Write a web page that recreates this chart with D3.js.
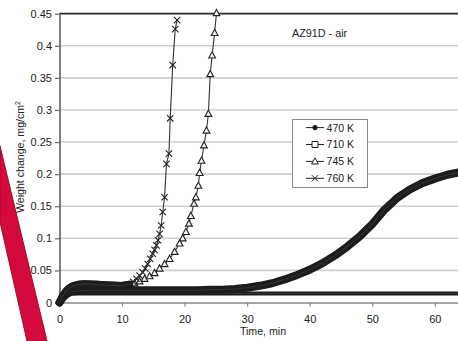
<!DOCTYPE html>
<html>
<head>
<meta charset="utf-8">
<script src="https://cdn.jsdelivr.net/npm/d3@7"></script>
<style>
  body { margin: 0; background: #fff; }
  svg { display: block; font-family: "Liberation Sans", Arial, sans-serif; }
</style>
</head>
<body>
<svg id="chart" width="458" height="341"></svg>
<script>
// values (time in min, weight change in mg/cm2)
const yTicks = [0, 0.05, 0.1, 0.15, 0.2, 0.25, 0.3, 0.35, 0.4, 0.45];
const xTicks = [0, 10, 20, 30, 40, 50, 60];
const seriesNames = ['470 K', '710 K', '745 K', '760 K'];

const t470 = [0, 0.5, 1, 1.5, 2, 3, 5, 10, 20, 30, 40, 50, 60, 66];
const w470 = [0, 0.006, 0.010, 0.013, 0.014, 0.014, 0.014, 0.014, 0.014, 0.014, 0.014, 0.014, 0.014, 0.014];

const t710 = [0, 0.5, 1, 1.5, 2, 3, 5, 8, 10, 12, 15, 18, 20, 22, 24, 26, 28, 30, 32, 34, 36, 38, 40, 42, 44, 46, 48, 50, 52, 54, 56, 58, 60, 62, 64, 66];
const w710 = [0, 0.007, 0.012, 0.015, 0.017, 0.018, 0.019, 0.019, 0.019, 0.019, 0.019, 0.019, 0.019, 0.019, 0.020, 0.020, 0.021, 0.023, 0.026, 0.030, 0.036, 0.043, 0.051, 0.061, 0.073, 0.087, 0.103, 0.122, 0.145, 0.163, 0.176, 0.186, 0.193, 0.199, 0.203, 0.206];

const t745 = [0, 0.5, 1, 1.5, 2, 3, 4, 6, 8, 10, 11.2, 12.0, 12.8, 13.6, 14.4, 15.2, 16.0, 16.8, 17.6, 18.4, 19.2, 19.7, 20.2, 20.7, 21.0, 21.5, 21.8, 22.2, 22.4, 22.7, 23.1, 23.5, 23.8, 24.1, 24.4, 24.8, 25.1];
const w745 = [0, 0.010, 0.017, 0.022, 0.025, 0.028, 0.029, 0.028, 0.027, 0.026, 0.028, 0.030, 0.033, 0.037, 0.041, 0.046, 0.053, 0.060, 0.068, 0.079, 0.092, 0.100, 0.110, 0.123, 0.135, 0.154, 0.164, 0.182, 0.202, 0.221, 0.245, 0.268, 0.294, 0.356, 0.385, 0.420, 0.451];

const t760 = [0, 0.5, 1, 1.5, 2, 3, 4, 6, 8, 10, 11.2, 11.8, 12.3, 12.8, 13.3, 13.7, 14.1, 14.5, 14.9, 15.2, 15.5, 15.75, 16.0, 16.25, 16.5, 16.8, 17.1, 17.5, 17.7, 18.1, 18.5, 18.8];
const w760 = [0, 0.010, 0.017, 0.022, 0.025, 0.028, 0.029, 0.028, 0.027, 0.026, 0.028, 0.032, 0.037, 0.042, 0.047, 0.053, 0.060, 0.068, 0.076, 0.082, 0.089, 0.097, 0.107, 0.120, 0.141, 0.164, 0.216, 0.232, 0.287, 0.370, 0.426, 0.440];

const svg = d3.select('#chart');

const plotLeft = 59.5, plotTop = 13.7, plotBottom = 302.5;
const x = d3.scaleLinear().domain([0, 70]).range([plotLeft, plotLeft + 6.255 * 70]);
const y = d3.scaleLinear().domain([0, 0.45]).range([plotBottom, plotTop]);

// red stripe lying across the page corner
svg.append('path')
  .attr('d', 'M0,146 L47,341 L27,341 L0,222 Z')
  .attr('fill', '#d40a3c')
  .attr('stroke', '#9c0c2c')
  .attr('stroke-width', 1);

// gridlines
svg.append('g')
  .selectAll('line')
  .data(yTicks.filter(d => d > 0 && d < 0.45))
  .enter().append('line')
  .attr('x1', plotLeft).attr('x2', 458)
  .attr('y1', d => y(d)).attr('y2', d => y(d))
  .attr('stroke', '#cfcfcf')
  .attr('stroke-width', 1.6);

svg.append('line')
  .attr('x1', plotLeft).attr('x2', 458)
  .attr('y1', y(0.45)).attr('y2', y(0.45))
  .attr('stroke', '#2a2a2a')
  .attr('stroke-width', 1.8);

const yAxis = svg.append('g')
  .attr('transform', `translate(${plotLeft},0)`)
  .call(d3.axisLeft(y).tickValues(yTicks).tickFormat(d => String(d)).tickSizeInner(4.5).tickSizeOuter(0).tickPadding(3));
yAxis.select('.domain').attr('stroke', '#555').attr('stroke-width', 1.5);
yAxis.selectAll('.tick line').attr('stroke', '#666').attr('stroke-width', 1.2);
yAxis.selectAll('.tick text').attr('fill', '#222').style('font-size', '11px');
yAxis.attr('font-family', null);

const xAxis = svg.append('g')
  .attr('transform', `translate(0,${plotBottom})`)
  .call(d3.axisBottom(x).tickValues(xTicks).tickFormat(d => String(d)).tickSizeInner(4).tickSizeOuter(0).tickPadding(8.5));
xAxis.select('.domain').attr('stroke', '#8a8a8a').attr('stroke-width', 1.4);
xAxis.selectAll('.tick line').attr('stroke', '#888').attr('stroke-width', 1.2);
xAxis.selectAll('.tick text').attr('fill', '#222').style('font-size', '11px');
xAxis.attr('font-family', null);

svg.append('text')
  .attr('x', 263).attr('y', 335)
  .attr('text-anchor', 'middle')
  .attr('fill', '#222')
  .style('font-size', '10.6px')
  .text('Time, min');

const yLabel = svg.append('text')
  .attr('transform', 'translate(24,157) rotate(-90)')
  .attr('text-anchor', 'middle')
  .attr('fill', '#222')
  .style('font-size', '10.6px')
  .text('Weight change, mg/cm');
yLabel.append('tspan')
  .attr('dy', -4)
  .style('font-size', '7px')
  .text('2');

svg.append('text')
  .attr('x', 292).attr('y', 37)
  .attr('fill', '#222')
  .style('font-size', '10.8px')
  .text('AZ91D - air');

// marker shapes
const markerPath = {
  circle: d3.symbol().type(d3.symbolCircle).size(15)(),
  square: 'M-3,-3H3V3H-3Z',
  triangle: 'M0,-3.6L3.4,2.6H-3.4Z',
  cross: 'M-3.2,-3.2L3.2,3.2M-3.2,3.2L3.2,-3.2'
};

const series = [
  { name: seriesNames[0], t: t470, w: w470, shape: 'circle', filled: true, band: 4, bandUntil: 99 },
  { name: seriesNames[1], t: t710, w: w710, shape: 'square', filled: false, band: 8, bandUntil: 99 },
  { name: seriesNames[2], t: t745, w: w745, shape: 'triangle', filled: false, band: 7.5, bandUntil: 11.5 },
  { name: seriesNames[3], t: t760, w: w760, shape: 'cross', filled: false, band: 7.5, bandUntil: 11.5 }
];

const line = d3.line()
  .x(d => x(d[0]))
  .y(d => y(d[1]));

const plot = svg.append('g');

series.forEach(s => {
  const pts = s.t.map((t, i) => [t, s.w[i]]);
  const dense = pts.filter(p => p[0] <= s.bandUntil);

  // many overlapping markers read as a solid dark band
  plot.append('path')
    .attr('d', line(dense))
    .attr('fill', 'none')
    .attr('stroke', '#1c1c1c')
    .attr('stroke-width', s.band)
    .attr('stroke-linejoin', 'round')
    .attr('stroke-linecap', 'round');

  plot.append('path')
    .attr('d', line(pts))
    .attr('fill', 'none')
    .attr('stroke', '#333')
    .attr('stroke-width', 1.1);

  plot.append('g')
    .selectAll('path')
    .data(pts.filter(p => p[0] > s.bandUntil))
    .enter().append('path')
    .attr('transform', p => `translate(${x(p[0])},${y(p[1])})`)
    .attr('d', markerPath[s.shape])
    .attr('fill', s.filled ? '#111' : '#f4f4f4')
    .attr('stroke', '#222')
    .attr('stroke-width', 1.1);
});

// legend
const legend = svg.append('g');
legend.append('rect')
  .attr('x', 292.5).attr('y', 119.5)
  .attr('width', 75).attr('height', 68)
  .attr('fill', '#fff')
  .attr('stroke', '#8a8a8a')
  .attr('stroke-width', 1);

const rows = legend.selectAll('g.row')
  .data(series)
  .enter().append('g')
  .attr('class', 'row')
  .attr('transform', (d, i) => `translate(0,${127.6 + i * 16.9})`);

rows.append('line')
  .attr('x1', 306).attr('x2', 324)
  .attr('stroke', '#222')
  .attr('stroke-width', 1);

rows.append('path')
  .attr('transform', 'translate(315,0)')
  .attr('d', d => markerPath[d.shape])
  .attr('fill', d => d.filled ? '#111' : '#fff')
  .attr('stroke', '#222')
  .attr('stroke-width', 1);

rows.append('text')
  .attr('x', 326.5).attr('y', 3.9)
  .attr('fill', '#222')
  .style('font-size', '10.6px')
  .text(d => d.name);
</script>
</body>
</html>
